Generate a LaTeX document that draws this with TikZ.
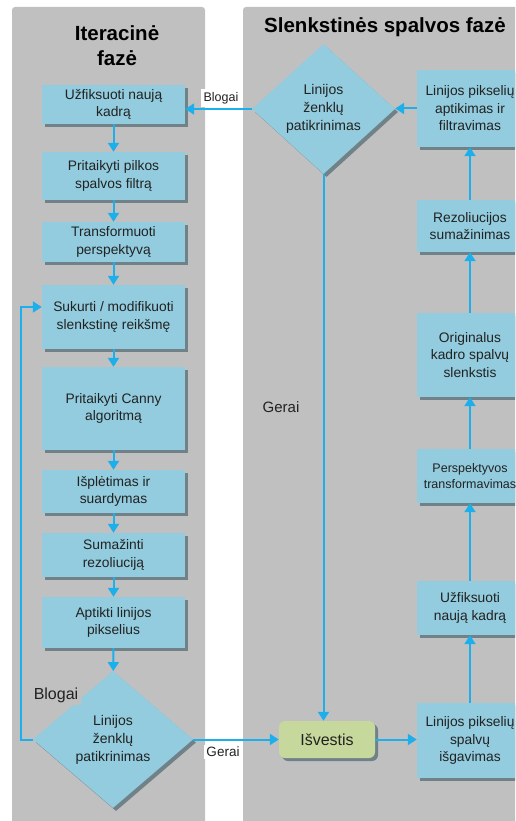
\documentclass[tikz,border=0pt]{standalone}
\usepackage{fontspec}
\setmainfont{Liberation Sans}
\usetikzlibrary{shapes.geometric,shadows,arrows.meta}
\definecolor{panel}{RGB}{192,192,192}
\definecolor{boxfill}{RGB}{146,204,222}
\definecolor{flow}{RGB}{27,176,236}
\definecolor{outfill}{RGB}{198,216,155}
\definecolor{shade}{RGB}{112,130,136}
\definecolor{ink}{RGB}{34,34,34}
\begin{document}
\begin{tikzpicture}[x=1pt,y=-1pt,
  boxshadow/.style={drop shadow={shadow xshift=3pt,shadow yshift=-3pt,fill=shade,opacity=1}},
  stepbox/.style={fill=boxfill,inner sep=2pt,align=center,text=ink,
    font=\fontsize{13.8}{17.5}\selectfont,boxshadow},
  leftbox/.style={stepbox,minimum width=143pt},
  rightbox/.style={stepbox,minimum width=106pt},
  checkbox/.style={diamond,fill=boxfill,inner sep=0pt,align=center,text=ink,
    font=\fontsize{14}{18}\selectfont,boxshadow},
  outbox/.style={rounded corners=6pt,fill=outfill,minimum width=96pt,minimum height=37pt,
    text=ink,font=\fontsize{16}{18}\selectfont,boxshadow},
  flowline/.style={draw=flow,line width=2pt,-{Triangle[width=11pt,length=9pt]}},
  tag/.style={text=ink,inner sep=3pt},
  title/.style={font=\bfseries\fontsize{20.5}{25}\selectfont,align=center,text=black}]
\useasboundingbox (0,0) rectangle (515,821);
\clip (0,0) rectangle (515,821);

% the two phase lanes
\fill[panel,rounded corners=3pt] (12,7) rectangle (205,830);
\fill[panel,rounded corners=3pt] (243,7) rectangle (530,830);
\node[title] (t1) at (117,46) {Iteracinė\\fazė};
\node[title] (t2) at (385,27) {Slenkstinės spalvos fazė};

% iterative phase
\node[leftbox,minimum height=39pt] (L1) at (113.5,104.5) {Užfiksuoti naują\\kadrą};
\node[leftbox,minimum height=48pt] (L2) at (113.5,176) {Pritaikyti pilkos\\spalvos filtrą};
\node[leftbox,minimum height=40pt] (L3) at (113.5,242) {Transformuoti\\perspektyvą};
\node[leftbox,minimum height=64pt] (L4) at (113.5,317) {Sukurti / modifikuoti\\slenkstinę reikšmę};
\node[leftbox,minimum height=83pt] (L5) at (113.5,408.5) {Pritaikyti Canny\\algoritmą};
\node[leftbox,minimum height=43pt] (L6) at (113.5,491.5) {Išplėtimas ir\\suardymas};
\node[leftbox,minimum height=44pt] (L7) at (113.5,555) {Sumažinti\\rezoliuciją};
\node[leftbox,minimum height=51pt] (L8) at (113.5,622.5) {Aptikti linijos\\pikselius};
\node[checkbox,minimum width=160pt,minimum height=137pt] (LD) at (113,739.5) {Linijos\\ženklų\\patikrinimas};

% colour threshold phase
\node[checkbox,minimum width=143pt,minimum height=130pt] (RD) at (323.5,109) {Linijos\\ženklų\\patikrinimas};
\node[rightbox,minimum height=77pt] (R1) at (470,108.5) {Linijos pikselių\\aptikimas ir\\filtravimas};
\node[rightbox,minimum height=52pt] (R2) at (470,226) {Rezoliucijos\\sumažinimas};
\node[rightbox,minimum height=84pt] (R3) at (470,355) {Originalus\\kadro spalvų\\slenkstis};
\node[rightbox,minimum height=54pt,font=\fontsize{12.5}{16}\selectfont] (R4) at (470,476) {Perspektyvos\\transformavimas};
\node[rightbox,minimum height=54pt] (R5) at (470,608) {Užfiksuoti\\naują kadrą};
\node[rightbox,minimum height=75pt] (R6) at (470,740.5) {Linijos pikselių\\spalvų\\išgavimas};
\node[outbox] (O) at (327,739.5) {Išvestis};

% iterative phase flow
\draw[flowline] (L1) -- (L2);
\draw[flowline] (L2) -- (L3);
\draw[flowline] (L3) -- (L4);
\draw[flowline] (L4) -- (L5);
\draw[flowline] (L5) -- (L6);
\draw[flowline] (L6) -- (L7);
\draw[flowline] (L7) -- (L8);
\draw[flowline] (L8) -- (LD);
\coordinate (loop) at (21,307);
\draw[flowline] (LD.west) -| (loop) -- (loop -| L4.west);
\draw[flowline] (LD.east) -- (O.west);

% threshold phase flow
\draw[flowline] (R6) -- (R5);
\draw[flowline] (R5) -- (R4);
\draw[flowline] (R4) -- (R3);
\draw[flowline] (R3) -- (R2);
\draw[flowline] (R2) -- (R1);
\draw[flowline] (R1.west) -- (R1.west -| RD.east);
\draw[flowline] (RD.west) -- (RD.west -| L1.east);
\draw[flowline] (RD.south) -- (RD.south |- O.north);
\draw[flowline] (O.east) -- (O.east -| R6.west);

% decision labels
\node[tag,fill=white,font=\fontsize{12.5}{14}\selectfont] (b1) at (221,98) {Blogai};
\node[tag,fill=panel,font=\fontsize{16}{18}\selectfont,inner ysep=3pt] (b2) at (56,695) {Blogai};
\node[tag,font=\fontsize{15}{17}\selectfont] (g1) at (281,407) {Gerai};
\node[tag,fill=white,font=\fontsize{13.5}{15}\selectfont,inner sep=2pt] (g2) at (223,752) {Gerai};
\end{tikzpicture}
\end{document}
